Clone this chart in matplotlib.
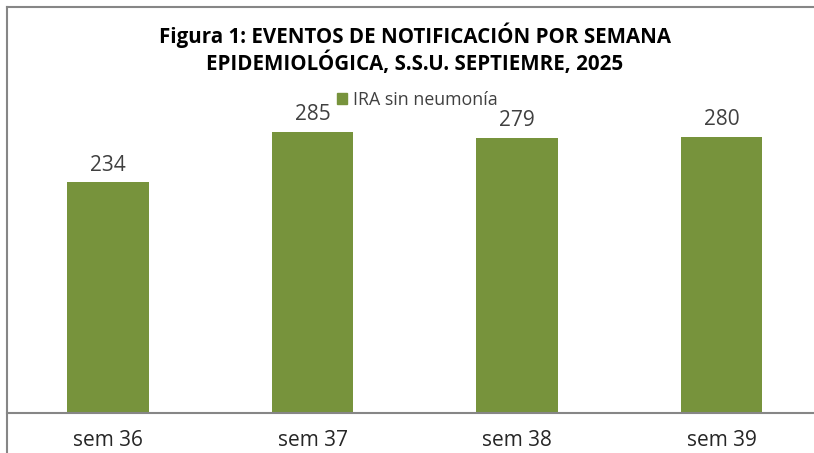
import matplotlib
matplotlib.use("Agg")
import matplotlib.pyplot as plt
from matplotlib.lines import Line2D
from matplotlib.patches import Patch

# data
semanas = ["sem 36", "sem 37", "sem 38", "sem 39"]
ira_sin_neumonia = [234, 285, 279, 280]
serie = "IRA sin neumonía"
titulo = "Figura 1: EVENTOS DE NOTIFICACIÓN POR SEMANA\nEPIDEMIOLÓGICA, S.S.U. SEPTIEMRE, 2025"

plt.rcParams["font.family"] = ["Open Sans", "DejaVu Sans"]

W, H = 814, 453
fig = plt.figure(figsize=(W / 100, H / 100), dpi=100)

# plot area, baseline at y=413 px, left frame at x=7 px
ax = fig.add_axes([7 / W, (H - 413) / H, 1 - 7 / W, (413 - 7) / H])
x = range(len(semanas))
bars = ax.bar(x, ira_sin_neumonia, width=0.4, color="#77933C")
ax.set_xlim(-0.494, 3.452)
ax.set_ylim(0, 412)

for b, v in zip(bars, ira_sin_neumonia):
    ax.text(b.get_x() + b.get_width() / 2, v + 7, str(v),
            ha="center", va="bottom", fontsize=15, color="#404040")

for s in ["top", "left", "right"]:
    ax.spines[s].set_visible(False)
ax.spines["bottom"].set_color("#868686")
ax.spines["bottom"].set_linewidth(1.5)
ax.set_yticks([])
ax.set_xticks(list(x))
ax.set_xticklabels(semanas, fontsize=15, color="#262626")
ax.tick_params(axis="x", length=0, pad=12)

# chart frame (cropped: only left and top visible)
fig.add_artist(Line2D([7 / W, 7 / W], [0, 1 - 7 / H], transform=fig.transFigure,
                      color="#868686", lw=1.5))
fig.add_artist(Line2D([7 / W, 1], [1 - 7 / H, 1 - 7 / H], transform=fig.transFigure,
                      color="#868686", lw=1.5))

fig.text(415 / W, 1 - 49 / H, titulo, ha="center", va="center",
         fontsize=14.8, fontweight="bold", color="#000000", linespacing=1.2)

leg = fig.legend(handles=[Patch(color="#77933C", label=serie)],
                 loc="center", bbox_to_anchor=(417 / W, 1 - 100 / H),
                 frameon=False, fontsize=12.8, handlelength=0.6, handleheight=0.6,
                 handletextpad=0.3, borderpad=0)
for t in leg.get_texts():
    t.set_color("#404040")

fig.savefig("out.png", dpi=100)
